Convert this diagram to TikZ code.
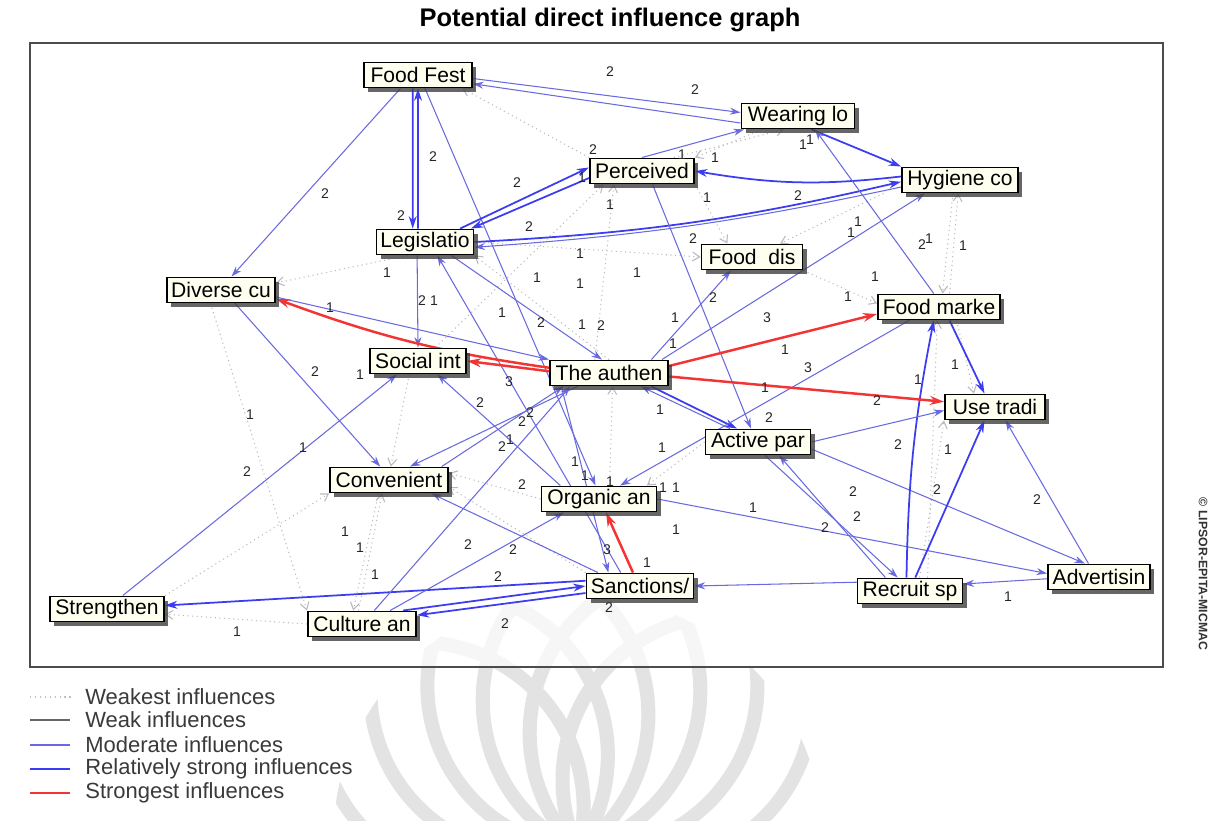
\documentclass[tikz,border=0pt]{standalone}
\usepackage{fontspec}
\setmainfont{Liberation Sans}
\usetikzlibrary{arrows.meta,shadows,calc}
\definecolor{rsblue}{HTML}{3C3CF0}
\definecolor{mdblue}{HTML}{6A6AE0}
\definecolor{srred}{HTML}{F23434}
\definecolor{nodefill}{HTML}{FFFFF0}
\definecolor{legtext}{HTML}{3A3A3A}
\pgfdeclarelayer{wm}
\pgfdeclarelayer{edges}
\pgfsetlayers{wm,edges,main}
\begin{document}
\begin{tikzpicture}[x=0.02cm,y=-0.02cm,
  box/.style={draw=black, line width=1.1pt, fill=nodefill, font=\fontsize{12}{14}\selectfont,
    inner xsep=2pt, inner ysep=0pt, minimum height=0.5cm,
    drop shadow={shadow xshift=2.5pt, shadow yshift=-2.5pt, fill=black!75, opacity=0.8}},
  bw/.style={minimum width=#1*0.02cm},
  strongest/.style={draw=srred, line width=1.4pt, -{Stealth[length=8pt,width=5pt]}},
  rstrong/.style={draw=rsblue, line width=1.0pt, -{Stealth[length=7pt,width=4.5pt]}},
  moderate/.style={draw=mdblue, line width=0.6pt, -{Stealth[length=6pt,width=4pt]}},
  weak/.style={draw=gray!80, line width=0.5pt, -{Straight Barb[length=4pt,width=5pt]}},
  weakest/.style={draw=gray!55, line width=0.6pt, dotted, -{Straight Barb[length=4pt,width=5pt]}},
  lbl/.style={font=\fontsize{8}{9}\selectfont, inner sep=0.5pt, text=black!85},
  legtxt/.style={anchor=west, font=\fontsize{12.5}{14}\selectfont, text=legtext, inner sep=0pt},
  wmarc/.style={line width=8pt}
]
\useasboundingbox (0,0) rectangle (1213,821);

% background and watermark
\begin{pgfonlayer}{wm}
\fill[white] (0,0) rectangle (1213,821);
\begin{scope}
\clip (578,840) circle [radius=245];
\clip (0,667) rectangle (1213,821);
\foreach \a in {-165,-145,...,-15}
  \draw[wmarc, gray!22] ($(578,850)+(\a:165)$) circle [radius=165];
\end{scope}
\begin{scope}
\clip (578,840) circle [radius=245];
\clip (0,580) rectangle (1213,667);
\foreach \a in {-165,-145,...,-15}
  \draw[wmarc, gray!7] ($(578,850)+(\a:165)$) circle [radius=165];
\end{scope}
\end{pgfonlayer}

% title, frame, side text
\node[font=\bfseries\fontsize{14.5}{16}\selectfont] (title) at (610,20) {Potential direct influence graph};
\draw[line width=1.3pt, black!70] (30,43) rectangle (1163,667);
\node[rotate=-90, font=\bfseries\fontsize{7}{8}\selectfont, text=black!80] (copy) at (1203,574) {© LIPSOR-EPITA-MICMAC};

% nodes
\node[box,bw=108] (ff) at (418,75) {Food Fest};
\node[box,bw=113] (wl) at (798,116) {Wearing lo};
\node[box,bw=104] (pe) at (642,171) {Perceived};
\node[box,bw=116] (hy) at (960,180) {Hygiene co};
\node[box,bw=97] (le) at (425,242) {Legislatio};
\node[box,bw=101] (fd) at (752,257) {Food\ \ dis};
\node[box,bw=108] (dc) at (221,290) {Diverse cu};
\node[box,bw=122] (fm) at (939,307) {Food marke};
\node[box,bw=96] (si) at (418,361) {Social int};
\node[box,bw=118] (au) at (609,373) {The authen};
\node[box,bw=100] (ut) at (995,407) {Use tradi};
\node[box,bw=105] (ap) at (758,442) {Active par};
\node[box,bw=118] (cv) at (389,480) {Convenient};
\node[box,bw=115] (oa) at (599,499) {Organic an};
\node[box,bw=107] (sa) at (640,586) {Sanctions/};
\node[box,bw=105] (rs) at (910,591) {Recruit sp};
\node[box,bw=102] (ad) at (1099,577) {Advertisin};
\node[box,bw=114] (st) at (107,609) {Strengthen};
\node[box,bw=108] (ca) at (362,624) {Culture an};

% edges
\begin{pgfonlayer}{edges}
% weakest influences
\draw[weakest] ([xshift=-10pt]le.south) -- ([yshift=4pt]dc.east);
\draw[weakest] ([xshift=-4pt]hy.south) -- ([xshift=2pt]fm.north);
\draw[weakest] ([xshift=6pt]fm.north) -- ([xshift=-1pt]hy.south);
\draw[weakest] ([xshift=10pt]fm.south) -- ([xshift=-12pt]ut.north);
\draw[weakest] ([xshift=10pt]rs.north) -- ([xshift=-1pt]fm.south);
\draw[weakest] ([xshift=-25pt]rs.north east) -- (ut.south west);
\draw[weakest] (pe.north west) -- ([xshift=-6pt]ff.south east);
\draw[weakest] ([xshift=-8pt]au.north) -- ([xshift=-16pt]pe.south);
\draw[weakest] ([xshift=-18pt]si.north east) -- ([xshift=-22pt]pe.south);
\draw[weakest] (le.east) -- (fd.west);
\draw[weakest] (pe.south east) -- ([xshift=-14pt]fd.north);
\draw[weakest] ([xshift=-10pt]hy.south west) -- ([xshift=16pt]fd.north);
\draw[weakest] (fd.south east) -- ([yshift=2pt]fm.west);
\draw[weakest] ([xshift=-5pt]si.south) -- ([xshift=1pt]cv.north);
\draw[weakest] ([xshift=-2pt]ca.north) -- ([xshift=-4pt]cv.south);
\draw[weakest] ([xshift=-6pt]cv.south) -- ([xshift=-5pt]ca.north);
\draw[weakest] (st.north east) -- (cv.south west);
\draw[weakest] (ca.west) -- ([yshift=-3pt]st.east);
\draw[weakest] ([xshift=-6pt]dc.south) -- (ca.north west);
\draw[weakest] (oa.west) -- ([yshift=4pt]cv.east);
\draw[weakest] (sa.north west) -- ([yshift=-4pt]cv.east);
\draw[weakest] (ap.west) -- ([xshift=-6pt]oa.north east);
\draw[weakest] ([xshift=6pt]oa.north) -- ([xshift=2pt]au.south);
\draw[weakest] ([xshift=12pt]wl.south west) -- (pe.north east);
\draw[weakest] ([xshift=-12pt]pe.north east) -- ([xshift=-8pt]wl.south);
\draw[weakest] (au.north) -- (le.south east);
% moderate and relatively strong influences
\draw[rstrong] ([xshift=-3pt]ff.south) -- ([xshift=-7pt]le.north);
\draw[rstrong] ([xshift=-4pt]le.north) -- (ff.south);
\draw[moderate] ([yshift=-2pt]ff.east) -- ([yshift=2pt]wl.west);
\draw[moderate] ([yshift=-4pt]wl.west) -- ([yshift=-5pt]ff.east);
\draw[moderate] ([xshift=-10pt]ff.south) -- ([xshift=6pt]dc.north);
\draw[moderate] ([xshift=4pt]ff.south) -- ([xshift=-2pt]oa.north);
\draw[rstrong] ([xshift=20pt]le.north) -- ([yshift=2pt]pe.west);
\draw[rstrong] ([yshift=-4pt]pe.west) -- ([xshift=-2pt]le.north east);
\draw[moderate] (pe.north) -- ([xshift=2pt]wl.south west);
\draw[rstrong] ([yshift=2pt]hy.west) to[bend left=8] (pe.east);
\draw[rstrong] (le.east) to[bend right=5] ([yshift=-1pt]hy.west);
\draw[moderate] ([yshift=-4pt]hy.west) to[bend left=4] ([yshift=-3pt]le.east);
\draw[rstrong] ([xshift=-25pt]wl.south east) -- (hy.north west);
\draw[moderate] ([xshift=-3pt]fm.north) -- ([xshift=-23pt]wl.south east);
\draw[moderate] ([xshift=-4.5pt]le.south) -- (si.north);
\draw[moderate] ([xshift=15pt]le.south) -- ([xshift=-4pt]au.north);
\draw[moderate] ([xshift=-11pt]sa.north) -- ([xshift=7pt]le.south);
\draw[moderate] ([xshift=-22pt]oa.north) -- ([xshift=11pt]si.south);
\draw[moderate] ([yshift=-4pt]dc.east) -- (au.north west);
\draw[moderate] ([xshift=8pt]dc.south) -- ([xshift=-5pt]cv.north);
\draw[moderate] ([xshift=9pt]st.north) -- ([xshift=-12pt]si.south);
\draw[rstrong] ([yshift=3pt]sa.west) -- ([yshift=2pt]st.east);
\draw[rstrong] ([xshift=-8pt]ca.north east) -- (sa.west);
\draw[rstrong] ([yshift=-4pt]sa.west) -- ([yshift=5pt]ca.east);
\draw[moderate] ([xshift=16pt]ca.north) -- ([xshift=-20pt]oa.south);
\draw[moderate] ([xshift=7pt]ca.north) -- ([xshift=12pt]au.south west);
\draw[moderate] ([xshift=-18pt]au.south) -- ([xshift=12pt]cv.north);
\draw[moderate] ([xshift=30pt]cv.north) -- ([xshift=-26pt]au.south);
\draw[moderate] ([xshift=-24pt]sa.north) -- ([xshift=-10pt]cv.south east);
\draw[moderate] ([xshift=7pt]au.south west) -- ([xshift=-18pt]sa.north);
\draw[rstrong] ([xshift=-10pt]au.south east) -- ([xshift=-12pt]ap.north);
\draw[moderate] ([xshift=-16pt]ap.north) -- ([xshift=-16pt]au.south east);
\draw[moderate] ([xshift=6pt]pe.south) -- ([xshift=-4pt]ap.north);
\draw[moderate] ([xshift=-10pt]au.north east) -- ([xshift=-12pt]fd.south);
\draw[moderate] ([xshift=-4pt]au.north east) -- ([xshift=-20pt]hy.south);
\draw[moderate] ([xshift=-17pt]fm.south) -- ([xshift=12pt]oa.north);
\draw[moderate] ([yshift=-4pt]ap.east) -- ([xshift=-8pt]ad.north);
\draw[moderate] (oa.east) -- ([yshift=2pt]ad.west);
\draw[moderate] ([xshift=4pt]ap.south) -- ([xshift=-7pt]rs.north);
\draw[moderate] ([xshift=-14pt]rs.north) -- ([xshift=12pt]ap.south);
\draw[moderate] ([yshift=-1pt]ad.west) -- ([yshift=4pt]rs.east);
\draw[moderate] ([yshift=5pt]rs.west) -- (sa.east);
\draw[rstrong] ([xshift=-2pt]rs.north) to[bend left=5] ([xshift=-3pt]fm.south);
\draw[rstrong] ([xshift=3pt]rs.north) -- ([xshift=-6pt]ut.south);
\draw[moderate] ([xshift=-6pt]ad.north) -- ([xshift=6pt]ut.south);
\draw[rstrong] ([xshift=6pt]fm.south) -- ([xshift=-6pt]ut.north);
\draw[moderate] (ap.east) -- ([yshift=-2pt]ut.west);
% strongest influences
\draw[strongest] ([yshift=3pt]au.west) to[bend left=6] ([yshift=-5pt]dc.east);
\draw[strongest] ([yshift=1pt]au.west) -- (si.east);
\draw[strongest] ([yshift=4pt]au.east) -- ([yshift=-4pt]fm.west);
\draw[strongest] ([yshift=-2pt]au.east) -- ([yshift=3pt]ut.west);
\draw[strongest] ([xshift=-4pt]sa.north) -- ([xshift=4pt]oa.south);
\end{pgfonlayer}

% edge values
\foreach \x/\y/\t [count=\i] in {610/72/2, 695/90/2, 433/157/2, 401/216/2, 325/194/2, 593/150/2,
  582/178/1, 682/155/1, 715/158/1, 803/145/1, 810/140/1, 517/183/2, 610/205/1, 707/198/1,
  798/196/2, 529/227/2, 693/239/2, 580/254/1, 858/222/1, 851/233/1, 922/245/2, 929/239/1,
  963/246/1, 387/273/1, 637/273/1, 537/278/1, 580/284/1, 875/277/1, 713/298/2, 848/297/1,
  422/301/2, 434/301/1, 330/308/1, 502/313/1, 541/323/2, 582/325/1, 601/326/2, 675/318/1,
  767/318/3, 673/344/1, 785/350/1, 808/368/3, 955/365/1, 315/372/2, 360/375/1, 509/382/3,
  765/388/1, 918/380/1, 877/401/2, 480/403/2, 530/413/2, 522/422/2, 660/410/1, 769/418/2,
  250/415/1, 303/448/1, 898/445/2, 948/450/1, 502/447/2, 510/440/1, 662/448/1, 247/472/2,
  575/462/1, 585/476/1, 610/482/1, 522/485/2, 663/488/1, 676/488/1, 853/492/2, 937/490/2,
  1037/500/2, 857/517/2, 676/530/1, 825/528/2, 753/508/1, 345/532/1, 360/548/1, 468/545/2,
  513/550/2, 607/550/3, 647/563/1, 375/575/1, 498/577/2, 609/608/2, 505/624/2, 1008/597/1,
  237/632/1}
  \node[lbl] (v\i) at (\x,\y) {\t};

% legend
\draw[draw=gray!50, line width=0.8pt, dotted] (30,697) -- (72,697);
\draw[draw=gray!80!black, line width=0.6pt] (30,720) -- (70,720);
\draw[draw=mdblue, line width=0.7pt] (30,745) -- (70,745);
\draw[draw=rsblue, line width=1.4pt] (30,769) -- (70,769);
\draw[draw=srred, line width=1.6pt] (30,793) -- (70,793);
\node[legtxt] (lg1) at (85,697) {Weakest influences};
\node[legtxt] (lg2) at (85,720) {Weak influences};
\node[legtxt] (lg3) at (85,745) {Moderate influences};
\node[legtxt] (lg4) at (85,769) {Relatively strong influences};
\node[legtxt] (lg5) at (85,793) {Strongest influences};
\end{tikzpicture}
\end{document}
